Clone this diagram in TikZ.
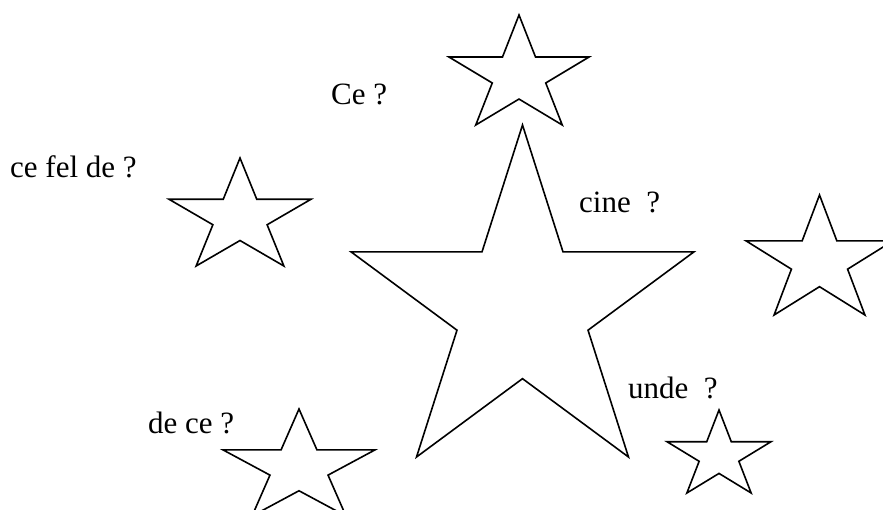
\documentclass[tikz,border=0pt]{standalone}
\usepackage{fontspec}
\setmainfont{Liberation Serif}
\usetikzlibrary{positioning}

\tikzset{
    starline/.style={draw=black, line width=1.6pt, line join=miter},
    qtext/.style={anchor=base west, inner sep=0pt, font=\fontsize{31}{31}\selectfont}
}

% star inside a box: left, top, width, height
\newcommand{\boxstar}[4]{%
    \draw[starline, shift={(#1,#2)}, xscale=#3, yscale=#4]
        (0.5,0) -- (0.618,0.382) -- (1,0.382) -- (0.691,0.618) -- (0.809,1)
        -- (0.5,0.764) -- (0.191,1) -- (0.309,0.618) -- (0,0.382)
        -- (0.382,0.382) -- cycle;
}

\begin{document}
\begin{tikzpicture}[x=1pt, y=-1pt]
    \clip (0,0) rectangle (883,509);

    % the stars
    \boxstar{351}{125}{343}{332}
    \boxstar{449}{15}{140}{110}
    \boxstar{169}{158}{142}{108}
    \boxstar{746}{195}{147}{120}
    \boxstar{223}{409}{152}{107}
    \boxstar{667}{410}{104}{83}

    % the questions
    \node[qtext] (ce) at (331,104) {Ce ?};
    \node[qtext] (cefelde) at (10,177) {ce fel de ?};
    \node[qtext] (cine) at (579,212) {cine~~?};
    \node[qtext] (unde) at (628,398) {unde~~?};
    \node[qtext] (dece) at (148,433) {de ce ?};
\end{tikzpicture}
\end{document}
